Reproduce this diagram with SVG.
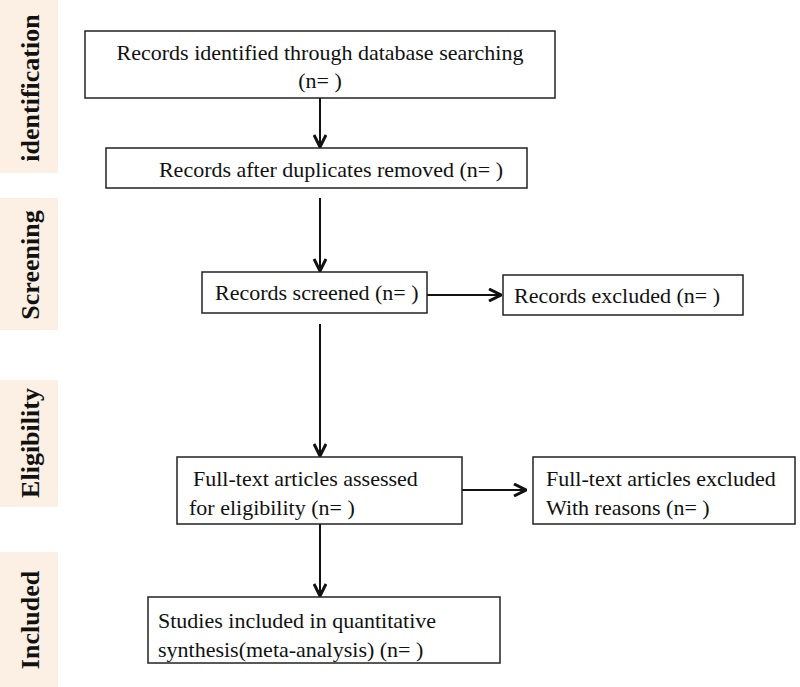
<svg xmlns="http://www.w3.org/2000/svg" width="800" height="687" viewBox="0 0 800 687">
<style>
.band{fill:#fcefe4}
.side{font-family:"Liberation Serif","Times New Roman",serif;font-weight:bold;font-size:26px;fill:#111;text-anchor:middle}
.box{fill:#fff;stroke:#222;stroke-width:1.5}
.t{font-family:"Liberation Serif","Times New Roman",serif;font-size:22px;fill:#111}
.c{text-anchor:middle}
.conn{stroke:#111;stroke-width:2;fill:none}
</style>
<defs>
<marker id="ah" viewBox="0 0 14 14" refX="13" refY="7" markerWidth="14" markerHeight="14" markerUnits="userSpaceOnUse" orient="auto">
<path d="M1,1 L13,7 L1,13" fill="none" stroke="#111" stroke-width="3"/>
</marker>
</defs>
<rect width="800" height="687" fill="#fff"/>
<g id="bands">
<rect class="band" x="0" y="0" width="58" height="173"/>
<rect class="band" x="0" y="198" width="58" height="132"/>
<rect class="band" x="0" y="380" width="58" height="127"/>
<rect class="band" x="0" y="552" width="58" height="135"/>
<text class="side" transform="translate(39,88) rotate(-90)">identification</text>
<text class="side" transform="translate(39,265) rotate(-90)">Screening</text>
<text class="side" transform="translate(39,443) rotate(-90)">Eligibility</text>
<text class="side" transform="translate(39,620) rotate(-90)">Included</text>
</g>
<g id="connectors">
<line class="conn" x1="320" y1="98" x2="320" y2="147" marker-end="url(#ah)"/>
<line class="conn" x1="320" y1="198" x2="320" y2="271" marker-end="url(#ah)"/>
<line class="conn" x1="427" y1="295" x2="501" y2="295" marker-end="url(#ah)"/>
<line class="conn" x1="320" y1="324" x2="320" y2="456" marker-end="url(#ah)"/>
<line class="conn" x1="462" y1="490" x2="526" y2="490" marker-end="url(#ah)"/>
<line class="conn" x1="320" y1="524" x2="320" y2="596" marker-end="url(#ah)"/>
</g>
<g id="n1">
<rect class="box" x="85" y="31" width="470" height="67"/>
<text class="t c" x="320" y="60">Records identified through database searching</text>
<text class="t c" x="320" y="88">(n= )</text>
</g>
<g id="n2">
<rect class="box" x="106" y="148" width="421" height="40"/>
<text class="t c" x="331" y="177">Records after duplicates removed (n= )</text>
</g>
<g id="n3">
<rect class="box" x="202" y="272" width="225" height="41"/>
<text class="t" x="215" y="300">Records screened (n= )</text>
</g>
<g id="n4">
<rect class="box" x="503" y="275" width="240" height="40"/>
<text class="t" x="514" y="303">Records excluded (n= )</text>
</g>
<g id="n5">
<rect class="box" x="177" y="457" width="285" height="67"/>
<text class="t" x="193" y="486">Full-text articles assessed</text>
<text class="t" x="189" y="515">for eligibility (n= )</text>
</g>
<g id="n6">
<rect class="box" x="533" y="457" width="262" height="67"/>
<text class="t" x="546" y="486">Full-text articles excluded</text>
<text class="t" x="546" y="515">With reasons (n= )</text>
</g>
<g id="n7">
<rect class="box" x="148" y="597" width="352" height="66"/>
<text class="t" x="158" y="628">Studies included in quantitative</text>
<text class="t" x="158" y="657">synthesis(meta-analysis) (n= )</text>
</g>
</svg>
